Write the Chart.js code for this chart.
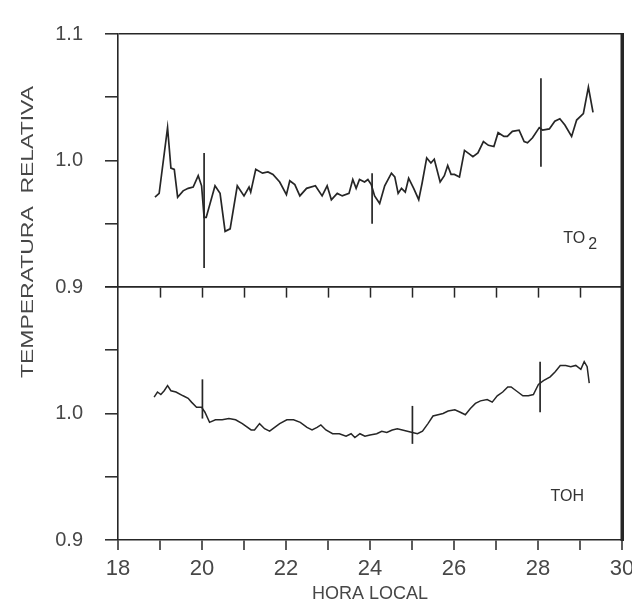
<!DOCTYPE html>
<html><head><meta charset="utf-8">
<script src="https://cdn.jsdelivr.net/npm/chart.js@4.4.1/dist/chart.umd.min.js"></script>
<style>
html,body{margin:0;padding:0;background:#fff;overflow:hidden;width:632px;height:611px}
#wrap{position:absolute;left:0;top:0;width:632px;height:611px}
</style></head><body>
<div id="wrap"><canvas id="c" width="632" height="611"></canvas></div>
<script>
// ---- data ----
const hoursTO2 = [18.88,18.98,19.18,19.26,19.34,19.42,19.55,19.67,19.79,19.91,19.99,20.05,20.1,20.31,20.43,20.55,20.67,20.84,21.0,21.12,21.16,21.28,21.44,21.57,21.69,21.85,22.01,22.09,22.21,22.33,22.49,22.7,22.86,22.98,23.08,23.22,23.34,23.5,23.59,23.67,23.75,23.87,23.95,24.03,24.11,24.23,24.35,24.51,24.59,24.67,24.75,24.84,24.92,25.04,25.16,25.24,25.35,25.45,25.53,25.67,25.77,25.85,25.93,26.01,26.13,26.25,26.37,26.45,26.57,26.7,26.82,26.95,27.05,27.19,27.27,27.39,27.55,27.67,27.75,27.87,28.03,28.11,28.27,28.4,28.52,28.64,28.8,28.92,29.08,29.2,29.31];
const valsTO2 = [0.971,0.974,1.026,0.994,0.993,0.971,0.976,0.978,0.979,0.988,0.980,0.955,0.955,0.980,0.974,0.944,0.946,0.980,0.972,0.979,0.975,0.993,0.990,0.991,0.989,0.983,0.973,0.984,0.981,0.972,0.978,0.980,0.972,0.980,0.969,0.974,0.972,0.974,0.985,0.978,0.985,0.983,0.985,0.981,0.972,0.966,0.980,0.990,0.987,0.974,0.978,0.975,0.986,0.978,0.969,0.982,1.002,0.998,1.001,0.983,0.988,0.996,0.989,0.989,0.987,1.008,1.005,1.003,1.006,1.015,1.012,1.011,1.022,1.019,1.019,1.023,1.024,1.015,1.014,1.018,1.026,1.024,1.025,1.031,1.033,1.028,1.019,1.032,1.037,1.058,1.038];
const hoursTOH = [18.86,18.94,19.02,19.1,19.18,19.26,19.38,19.55,19.67,19.75,19.87,19.99,20.07,20.18,20.32,20.48,20.64,20.8,20.96,21.17,21.25,21.37,21.49,21.61,21.73,21.85,22.02,22.18,22.34,22.5,22.62,22.74,22.83,22.95,23.11,23.27,23.43,23.55,23.64,23.76,23.88,24.0,24.16,24.28,24.4,24.53,24.65,24.77,24.89,25.01,25.13,25.25,25.38,25.5,25.62,25.74,25.86,26.02,26.15,26.27,26.39,26.51,26.63,26.79,26.91,27.03,27.16,27.28,27.36,27.48,27.64,27.77,27.89,28.01,28.13,28.29,28.41,28.53,28.66,28.78,28.9,29.02,29.1,29.17,29.22];
const valsTOH = [1.013,1.017,1.015,1.018,1.022,1.018,1.017,1.014,1.012,1.009,1.005,1.005,1.001,0.993,0.995,0.995,0.996,0.995,0.992,0.987,0.987,0.992,0.988,0.986,0.989,0.992,0.995,0.995,0.993,0.989,0.987,0.989,0.991,0.987,0.984,0.984,0.982,0.984,0.981,0.984,0.982,0.983,0.984,0.986,0.985,0.987,0.988,0.987,0.986,0.985,0.984,0.986,0.992,0.998,0.999,1.000,1.002,1.003,1.001,0.999,1.004,1.008,1.010,1.011,1.009,1.014,1.017,1.021,1.021,1.018,1.014,1.014,1.015,1.023,1.026,1.029,1.033,1.038,1.038,1.037,1.038,1.035,1.041,1.037,1.024];
const barHoursTO2 = [20.05, 24.05, 28.07];
const barLowTO2   = [0.915, 0.950, 0.995];
const barHighTO2  = [1.006, 0.990, 1.065];
const barHoursTOH = [20.01, 25.01, 28.05];
const barLowTOH   = [0.996, 0.976, 1.001];
const barHighTOH  = [1.027, 1.006, 1.041];
const xTickLabels = ['18','20','22','24','26','28','30'];
const yTopLabels = ['1.1','1.0','0.9'];
const yBottomLabels = ['1.0','0.9'];
const panelNames = ['TO', '2', 'TOH'];
const yTitle = 'TEMPERATURA  RELATIVA';
const xTitle = 'HORA LOCAL';

// ---- styling ----
const INK = '#262626';
const TXT = '#474747';
const FONT = '"Liberation Sans", Arial, sans-serif';
const CLEAR = 'rgba(0,0,0,0)';

function pts(xs, ys){ return xs.map((x,i)=>({x:x, y:ys[i]})); }
const datasets = [
  {label:'TO2', data:pts(hoursTO2, valsTO2), xAxisID:'x', yAxisID:'yT', borderColor:INK, borderWidth:1.7, pointRadius:0, tension:0, fill:false},
  {label:'TOH', data:pts(hoursTOH, valsTOH), xAxisID:'x', yAxisID:'yB', borderColor:INK, borderWidth:1.5, pointRadius:0, tension:0, fill:false}
];
barHoursTO2.forEach((h,i)=>datasets.push({label:'barT'+i, data:[{x:h,y:barLowTO2[i]},{x:h,y:barHighTO2[i]}], xAxisID:'x', yAxisID:'yT', borderColor:INK, borderWidth:1.7, pointRadius:0}));
barHoursTOH.forEach((h,i)=>datasets.push({label:'barB'+i, data:[{x:h,y:barLowTOH[i]},{x:h,y:barHighTOH[i]}], xAxisID:'x', yAxisID:'yB', borderColor:INK, borderWidth:1.7, pointRadius:0}));

function near(a,b){ return Math.abs(a-b) < 1e-6; }
function yLabel(list){ return function(v){ const t=(Math.round(v*10)/10).toFixed(1); return (near(v*10, Math.round(v*10)) && list.includes(t)) ? t : ''; }; }

const textPlugin = {
  id:'panelText',
  afterDraw(chart){
    const ctx = chart.ctx, x = chart.scales.x, yT = chart.scales.yT, yB = chart.scales.yB;
    const a = chart.chartArea;
    ctx.save();
    ctx.strokeStyle = INK;
    ctx.lineWidth = 3;
    ctx.beginPath();
    ctx.moveTo(Math.round(a.right), a.top - 1);
    ctx.lineTo(Math.round(a.right), a.bottom + 1);
    ctx.stroke();
    ctx.fillStyle = '#333';
    ctx.font = '16px ' + FONT;
    ctx.textBaseline = 'middle';
    ctx.textAlign = 'left';
    const px = x.getPixelForValue(28.6), py = yT.getPixelForValue(0.938);
    ctx.fillText(panelNames[0], px, py);
    const w = ctx.measureText(panelNames[0]).width;
    ctx.fillText(panelNames[1], px + w + 3, py + 6);
    ctx.fillText(panelNames[2], x.getPixelForValue(28.3), yB.getPixelForValue(0.934));
    ctx.translate(28, 232);
    ctx.rotate(-Math.PI/2);
    ctx.textAlign = 'center';
    ctx.fillStyle = TXT;
    ctx.font = '17px ' + FONT;
    const tw = ctx.measureText(yTitle).width;
    ctx.scale(292 / tw, 1);
    ctx.fillText(yTitle, 0, 0);
    ctx.restore();
  }
};

function yAxis(list, gridVals){
  return {
    type:'linear', axis:'y', position:'left', stack:'panels', stackWeight:1,
    min:0.9, max:1.1,
    ticks:{stepSize:0.05, autoSkip:false, padding:22, color:TXT, font:{family:FONT, size:20}, callback:yLabel(list)},
    grid:{drawTicks:true, tickLength:13, tickColor:INK, tickWidth:1.5, lineWidth:1.6,
      color:(c)=> (c.tick && gridVals.some(g=>near(c.tick.value,g))) ? INK : CLEAR},
    border:{display:true, color:INK, width:1.6},
    afterFit(s){ s.width = 118; }
  };
}

new Chart(document.getElementById('c'), {
  type:'line',
  data:{datasets},
  plugins:[textPlugin],
  options:{
    responsive:false, animation:false, devicePixelRatio:1,
    layout:{padding:{left:0, top:28, right:10, bottom:6}},
    plugins:{legend:{display:false}, tooltip:{enabled:false}},
    scales:{
      yB: yAxis(yBottomLabels, []),
      yT: yAxis(yTopLabels, [1.1, 0.9]),
      yR:{
        type:'linear', axis:'y', position:'right', min:0.7, max:1.1,
        ticks:{display:false},
        grid:{display:false},
        border:{display:true, color:INK, width:3},
        afterFit(s){ s.width = 0; }
      },
      x:{
        type:'linear', axis:'x', position:'bottom', min:18, max:30,
        ticks:{stepSize:1, autoSkip:false, maxRotation:0, padding:6, color:TXT, font:{family:FONT, size:22},
          callback:(v)=> xTickLabels.includes(String(v)) ? String(v) : ''},
        grid:{drawTicks:true, tickLength:10, tickColor:INK, tickWidth:1.5, lineWidth:2,
          color:(c)=> (c.tick && near(c.tick.value,30)) ? INK : CLEAR},
        border:{display:true, color:INK, width:1.6},
        title:{display:true, text:xTitle, color:TXT, font:{family:FONT, size:18}, padding:{top:0, bottom:0}},
        afterFit(s){ s.height = 65; s.paddingRight = 0; s.paddingLeft = 0; }
      },
      xM:{
        type:'linear', axis:'x', position:{yT:0.9}, min:18, max:30,
        ticks:{stepSize:1, display:false},
        grid:{drawTicks:true, drawOnChartArea:false, tickLength:10, tickWidth:1.5,
          color:CLEAR,
          tickColor:(c)=> (c.tick && (near(c.tick.value,18)||near(c.tick.value,30))) ? CLEAR : INK},
        border:{display:true, color:INK, width:1.6}
      }
    }
  }
});
</script>
</body></html>
